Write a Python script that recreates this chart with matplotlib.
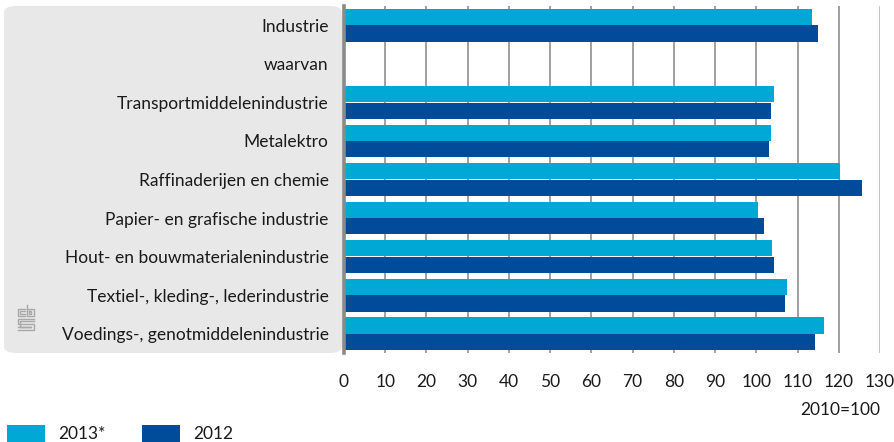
import matplotlib
matplotlib.use("Agg")
import matplotlib.pyplot as plt
from matplotlib.patches import FancyBboxPatch, Rectangle
from matplotlib.lines import Line2D
import numpy as np

categories = ["Industrie", "waarvan", "Transportmiddelenindustrie", "Metalektro",
              "Raffinaderijen en chemie", "Papier- en grafische industrie",
              "Hout- en bouwmaterialenindustrie", "Textiel-, kleding-, lederindustrie",
              "Voedings-, genotmiddelenindustrie"]
values_2013 = [113.5, np.nan, 104.3, 103.6, 120.3, 100.4, 103.8, 107.4, 116.4]
values_2012 = [115.0, np.nan, 103.6, 103.1, 125.6, 101.9, 104.3, 107.0, 114.2]
series_labels = ["2013*", "2012"]
xticks = list(range(0, 131, 10))
unit_label = "2010=100"

c13 = "#00a8d6"
c12 = "#004b9a"
txt = "#1a1a1a"
font = ["Lato", "DejaVu Sans"]
plt.rcParams["font.family"] = font
fs = 12.5

W, H = 895, 442
fig = plt.figure(figsize=(W / 100, H / 100), dpi=100)

ax_l, ax_r, ax_t, ax_b = 344, 880, 6, 353
ax = fig.add_axes([ax_l / W, 1 - ax_b / H, (ax_r - ax_l) / W, (ax_b - ax_t) / H])
ax.set_zorder(2)

# gray label panel
panel = FancyBboxPatch((4 / W, 1 - ax_b / H), (ax_l - 6) / W, (ax_b - ax_t) / H,
                       boxstyle="round,pad=0,rounding_size=0.014",
                       transform=fig.transFigure, facecolor="#e8e8e8",
                       edgecolor="none", zorder=-1)
fig.patches.append(panel)

y = np.arange(len(categories))
h = 0.42
ax.barh(y - 0.215, values_2013, height=h, color=c13, zorder=3, label=series_labels[0])
ax.barh(y + 0.215, values_2012, height=h, color=c12, zorder=3, label=series_labels[1])

ax.set_xlim(0, 130)
ax.set_ylim(len(categories) - 0.5, -0.5)
ax.set_facecolor("none")
for s in ["top", "right", "bottom"]:
    ax.spines[s].set_visible(False)
ax.spines["left"].set_color("#8a8a8a")
ax.spines["left"].set_linewidth(2.6)
ax.spines["left"].set_zorder(4)

for xv in xticks[1:]:
    ax.axvline(xv, color="#999999" if xv < 130 else "#c0c0c0", lw=1.3, zorder=1)

ax.set_xticks(xticks)
ax.set_xticklabels([str(v) for v in xticks], fontsize=fs, color=txt)
ax.tick_params(axis="x", length=0, pad=15)
ax.set_yticks(y)
ax.set_yticklabels(categories, fontsize=fs, color=txt)
ax.tick_params(axis="y", length=0, pad=11)

fig.text(ax_r / W, 1 - 410 / H, unit_label, ha="right", va="center", fontsize=fs, color=txt)

# legend
for i, (lab, col) in enumerate(zip(series_labels, [c13, c12])):
    x0 = 7 + i * 135
    fig.patches.append(Rectangle((x0 / W, 0), 38 / W, 17 / H,
                                 transform=fig.transFigure, facecolor=col, edgecolor="none"))
    fig.text((x0 + 51) / W, 1 - 434 / H, lab, ha="left", va="center", fontsize=fs, color=txt)

# small cbs logo
lc = "#a8a8a8"
def L(xs, ys):
    fig.lines.append(Line2D([v / W for v in xs], [1 - v / H for v in ys],
                            transform=fig.transFigure, color=lc, lw=1.0))
# c
L([25, 18, 18, 25], [308.5, 308.5, 316, 316])
L([25, 20.5, 20.5, 25], [311, 311, 313.5, 313.5])
# b
L([27, 27, 34, 34, 27], [305, 316, 316, 308.5, 308.5])
L([29.5, 29.5, 31.5, 31.5, 29.5], [311, 313.5, 313.5, 311, 311])
# s
L([34, 18, 18, 34, 34, 18], [318.5, 318.5, 324, 324, 329.5, 329.5])
L([34, 20.5, 20.5, 31.5, 31.5, 18], [321, 321, 326.5, 326.5, 327, 327])

fig.savefig("out.png", dpi=100)
